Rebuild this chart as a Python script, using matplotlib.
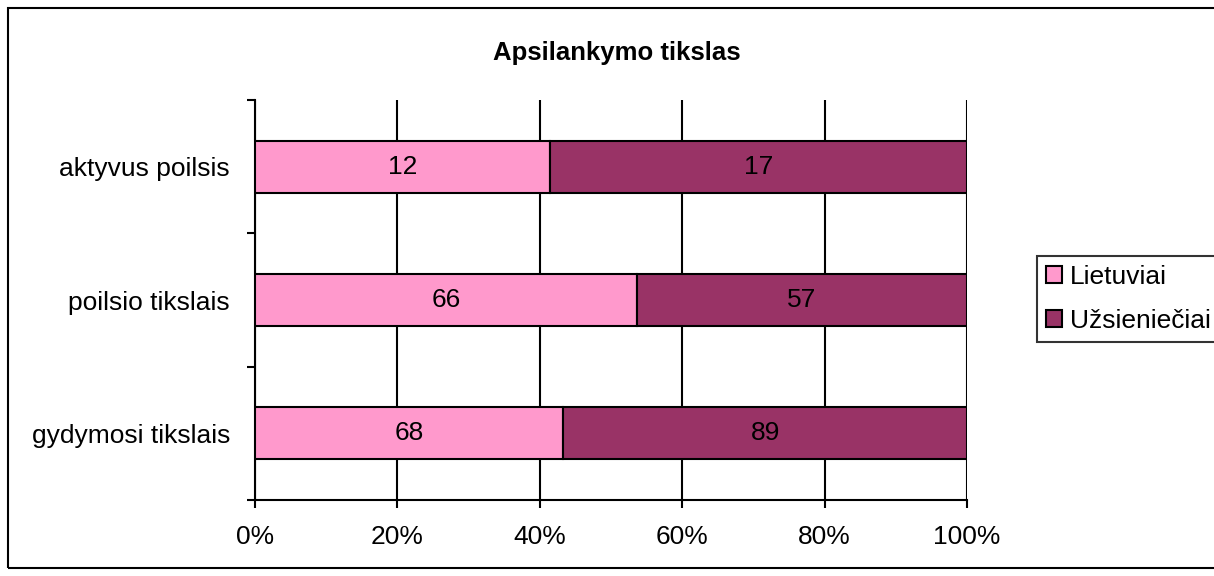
import numpy as np
import matplotlib.pyplot as plt
from matplotlib.patches import Rectangle

# data (bottom to top, as drawn)
categories = ["gydymosi tikslais", "poilsio tikslais", "aktyvus poilsis"]
lietuviai = [68, 66, 12]
uzsienieciai = [89, 57, 17]
series_names = ["Lietuviai", "Užsieniečiai"]

PINK = "#FF99CC"
MAROON = "#993366"
FS = 19

plt.rcParams["font.family"] = ["Liberation Sans", "DejaVu Sans"]
plt.rcParams["font.size"] = FS

fig = plt.figure(figsize=(12.14, 5.76), dpi=100)
ax = fig.add_axes([0.210, 0.132, 0.5865, 0.694])

lt = np.array(lietuviai, dtype=float)
uz = np.array(uzsienieciai, dtype=float)
tot = lt + uz
y = np.arange(len(categories))

b1 = ax.barh(y, lt / tot * 100, height=0.39, color=PINK, edgecolor="black",
             linewidth=1.5, label=series_names[0], zorder=3)
b2 = ax.barh(y, uz / tot * 100, left=lt / tot * 100, height=0.39, color=MAROON,
             edgecolor="black", linewidth=1.5, label=series_names[1], zorder=3)
ax.bar_label(b1, labels=[str(v) for v in lietuviai], label_type="center", fontsize=FS)
ax.bar_label(b2, labels=[str(v) for v in uzsienieciai], label_type="center", fontsize=FS)

ax.set_xlim(0, 100)
ax.set_ylim(-0.5, len(categories) - 0.5)
ax.set_xticks(np.arange(0, 101, 20))
ax.set_xticklabels([f"{v}%" for v in range(0, 101, 20)])
ax.set_yticks(y)
ax.set_yticklabels(categories)
ax.set_yticks(np.arange(-0.5, len(categories), 1.0), minor=True)
ax.tick_params(axis="y", which="major", length=0, pad=18)
ax.tick_params(axis="y", which="minor", length=6, width=1.5, direction="out")
ax.tick_params(axis="x", length=6, width=1.5, direction="out", pad=12)

ax.grid(axis="x", color="black", linewidth=1.5, zorder=0)
ax.set_axisbelow(True)
for s in ["top", "right"]:
    ax.spines[s].set_visible(False)
for s in ["left", "bottom"]:
    ax.spines[s].set_linewidth(1.5)

fig.text(0.508, 0.908, "Apsilankymo tikslas", ha="center", va="center",
         fontsize=18.5, fontweight="bold")

leg = fig.legend(loc="upper left", bbox_to_anchor=(0.854, 0.556), frameon=True,
                 fancybox=False, edgecolor="black", fontsize=FS, handlelength=0.6,
                 handleheight=0.6, handletextpad=0.3, borderpad=0.35,
                 labelspacing=0.75, borderaxespad=0)
leg.get_frame().set_linewidth(1.5)

# outer chart border (right side runs off the image)
fig.patches.append(Rectangle((8 / 1214, 8 / 576), 1.05, 1 - 16 / 576,
                             transform=fig.transFigure, fill=False,
                             edgecolor="black", linewidth=1.5, clip_on=False))

fig.savefig("out.png", dpi=100)
